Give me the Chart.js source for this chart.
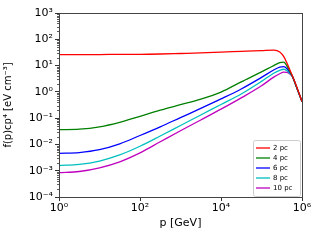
<!DOCTYPE html>
<html><head><meta charset="utf-8">
<script src="https://cdn.jsdelivr.net/npm/chart.js@4/dist/chart.umd.min.js"></script>
<style>html,body{margin:0;padding:0;background:#fff}#c{display:block}</style>
</head><body>
<canvas id="c" width="320" height="240"></canvas>
<script>
// momentum p [GeV]
const momentumGeV = [1, 3.16, 10, 31.6, 100, 316, 1000, 3160, 10000, 31600, 100000, 200000, 282000, 355000, 427000, 501000, 575000, 759000, 1000000];
// f(p) c p^4 [eV cm^-3]
const series2pc  = [26.3, 26.3, 26.3, 26.9, 26.9, 27.5, 28.8, 30.2, 32.4, 34.7, 37.2, 38.9, 33.1, 21.9, 12.3, 6.92, 4.17, 1.41, 0.427];
const series4pc  = [0.0363, 0.0380, 0.0468, 0.0692, 0.117, 0.200, 0.324, 0.525, 0.977, 2.40, 5.75, 10.0, 12.9, 13.5, 9.55, 6.03, 3.98, 1.32, 0.427];
const series6pc  = [0.00457, 0.00490, 0.00631, 0.0105, 0.0219, 0.0468, 0.105, 0.234, 0.537, 1.29, 3.55, 6.76, 8.71, 9.12, 7.59, 5.50, 3.98, 1.32, 0.427];
const series8pc  = [0.00158, 0.00174, 0.00234, 0.00398, 0.00851, 0.0209, 0.0525, 0.132, 0.331, 0.832, 2.51, 5.13, 6.61, 7.24, 6.31, 5.01, 3.89, 1.32, 0.427];
const series10pc = [0.000851, 0.000933, 0.00129, 0.00219, 0.00479, 0.0126, 0.0331, 0.0851, 0.219, 0.589, 1.70, 3.63, 4.90, 5.62, 5.50, 4.79, 3.80, 1.32, 0.427];
const seriesLabels = ['2 pc', '4 pc', '6 pc', '8 pc', '10 pc'];
const seriesColors = ['#ff0000', '#008000', '#0000ff', '#00bfbf', '#bf00bf'];
const xTickValues = [1, 1e2, 1e4, 1e6];
const xTickLabels = ['10\u2070', '10\u00b2', '10\u2074', '10\u2076'];
const yTickValues = [1e-4, 1e-3, 1e-2, 1e-1, 1, 1e1, 1e2, 1e3];
const yTickLabels = ['10\u207b\u2074', '10\u207b\u00b3', '10\u207b\u00b2', '10\u207b\u00b9', '10\u2070', '10\u00b9', '10\u00b2', '10\u00b3'];

const allSeries = [series2pc, series4pc, series6pc, series8pc, series10pc];
const datasets = allSeries.map((s, i) => ({
  label: seriesLabels[i],
  data: s.map((v, j) => ({x: momentumGeV[j], y: v})),
  borderColor: seriesColors[i],
  backgroundColor: seriesColors[i],
  borderWidth: 1.3,
  pointRadius: 0,
  fill: false,
  cubicInterpolationMode: 'monotone'
}));

const FONT = 'DejaVu Sans';

const framePlugin = {
  id: 'frame',
  afterDatasetsDraw(chart) {
    const {ctx, chartArea: a, scales} = chart;
    ctx.save();
    ctx.strokeStyle = '#333';
    ctx.lineWidth = 0.8;
    const ys = scales.y;
    for (let n = -4; n < 3; n++) {
      for (let k = 2; k <= 9; k++) {
        const py = Math.round(ys.getPixelForValue(k * Math.pow(10, n))) + 0.5;
        ctx.beginPath(); ctx.moveTo(a.left - 2, py); ctx.lineTo(a.left, py); ctx.stroke();
      }
    }
    ctx.lineWidth = 1;
    ctx.strokeStyle = '#444';
    ctx.strokeRect(Math.round(a.left) + 0.5, Math.round(a.top) + 0.5, Math.round(a.right - a.left), Math.round(a.bottom - a.top));
    const bx = 253, by = 140, bw = 47, bh = 56;
    ctx.fillStyle = 'rgba(255,255,255,0.9)';
    ctx.strokeStyle = '#cccccc';
    ctx.beginPath();
    if (ctx.roundRect) ctx.roundRect(bx + 0.5, by + 0.5, bw, bh, 2); else ctx.rect(bx + 0.5, by + 0.5, bw, bh);
    ctx.fill(); ctx.stroke();
    ctx.font = '7px "' + FONT + '"';
    ctx.textBaseline = 'middle';
    ctx.textAlign = 'left';
    chart.data.datasets.forEach((d, i) => {
      const yy = by + 8 + i * 10;
      ctx.strokeStyle = d.borderColor;
      ctx.lineWidth = 1.3;
      ctx.beginPath(); ctx.moveTo(bx + 3, yy); ctx.lineTo(bx + 17, yy); ctx.stroke();
      ctx.fillStyle = '#000';
      ctx.fillText(d.label, bx + 20, yy);
    });
    ctx.restore();
  }
};

new Chart(document.getElementById('c'), {
  type: 'line',
  data: {datasets},
  options: {
    responsive: false,
    animation: false,
    devicePixelRatio: 1,
    layout: {padding: {top: 13, right: 18, left: 0, bottom: 0}},
    plugins: {legend: {display: false}, tooltip: {enabled: false}},
    scales: {
      x: {
        type: 'logarithmic', min: 1, max: 1e6,
        afterBuildTicks: s => { s.ticks = xTickValues.map(v => ({value: v})); },
        afterFit: s => { s.height = 43; },
        ticks: {
          autoSkip: false, maxRotation: 0, padding: 1, color: '#000',
          font: {family: FONT, size: 11},
          callback: v => xTickLabels[xTickValues.indexOf(v)]
        },
        grid: {drawOnChartArea: false, drawTicks: true, tickLength: 4, color: '#333'},
        border: {display: false},
        title: {display: true, text: 'p [GeV]', color: '#000', font: {family: FONT, size: 11}, padding: {top: 0, bottom: 10}}
      },
      y: {
        type: 'logarithmic', min: 1e-4, max: 1e3,
        afterBuildTicks: s => { s.ticks = yTickValues.map(v => ({value: v})); },
        afterFit: s => { s.width = 59; },
        ticks: {
          autoSkip: false, padding: 2, color: '#000',
          font: {family: FONT, size: 11},
          callback: v => yTickLabels[yTickValues.indexOf(v)]
        },
        grid: {drawOnChartArea: false, drawTicks: true, tickLength: 4, color: '#333'},
        border: {display: false},
        title: {display: true, text: 'f(p)cp\u2074 [eV cm\u207b\u00b3]', color: '#000', font: {family: FONT, size: 10}, padding: {top: 2, bottom: 0}}
      }
    }
  },
  plugins: [framePlugin]
});
</script>
</body></html>
